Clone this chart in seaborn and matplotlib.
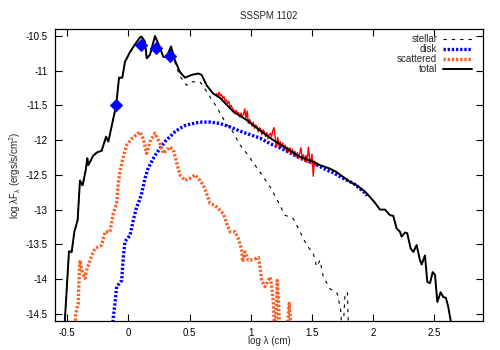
import pandas as pd
import matplotlib
matplotlib.use("Agg")
import matplotlib.pyplot as plt
from matplotlib.ticker import FuncFormatter
import seaborn as sns

# total model SED
total_x = [-0.53, -0.50, -0.486, -0.464, -0.442, -0.415, -0.396, -0.374, -0.349, -0.336,
           -0.328, -0.287, -0.26, -0.218, -0.183, -0.164, -0.124, -0.10, -0.077, -0.05,
           -0.028, 0.013, 0.054, 0.094, 0.108, 0.135, 0.149, 0.176, 0.217, 0.244,
           0.285, 0.313, 0.348, 0.38, 0.421, 0.462, 0.517, 0.571, 0.598, 0.639,
           0.693, 0.748, 0.857, 0.966, 1.075, 1.184, 1.293, 1.402, 1.51, 1.565,
           1.647, 1.701, 1.755, 1.81, 1.865, 1.933, 1.974, 2.014, 2.055, 2.096,
           2.137, 2.164, 2.191, 2.219, 2.232, 2.26, 2.278, 2.306, 2.328, 2.355,
           2.382, 2.396, 2.423, 2.442, 2.464, 2.486, 2.505, 2.524, 2.551, 2.573,
           2.594, 2.613, 2.633, 2.645]
total_y = [-14.9, -14.02, -13.6, -13.61, -13.32, -13.15, -12.58, -12.65, -12.43, -12.26,
           -12.36, -12.22, -12.18, -12.15, -11.95, -12.02, -11.69, -11.5, -11.1, -11.1,
           -10.87, -10.73, -10.62, -10.52, -10.51, -10.58, -10.82, -10.77, -10.5, -10.61,
           -10.8, -10.8, -10.65, -10.85, -11.02, -11.1, -11.06, -11.04, -11.06, -11.21,
           -11.33, -11.39, -11.59, -11.71, -11.86, -12.0, -12.12, -12.24, -12.31, -12.36,
           -12.41, -12.46, -12.53, -12.6, -12.65, -12.74, -12.82, -12.9, -13.0, -13.0,
           -13.08, -13.09, -13.27, -13.32, -13.39, -13.33, -13.34, -13.56, -13.61, -13.51,
           -13.73, -13.79, -13.66, -14.04, -14.06, -13.9, -13.94, -14.33, -14.19, -14.26,
           -14.27, -14.4, -14.6, -14.8]

# stellar photosphere
stellar_x = [-0.53, -0.50, -0.486, -0.464, -0.442, -0.415, -0.396, -0.374, -0.349, -0.336,
             -0.328, -0.287, -0.26, -0.218, -0.183, -0.164, -0.124, -0.10, -0.077, -0.05,
             -0.028, 0.013, 0.054, 0.094, 0.108, 0.135, 0.149, 0.176, 0.217, 0.244,
             0.285, 0.313, 0.348, 0.38, 0.421, 0.476, 0.517, 0.585, 0.639, 0.693,
             0.721, 0.803, 0.83, 0.912, 0.966, 1.075, 1.157, 1.224, 1.279, 1.347,
             1.402, 1.456, 1.51, 1.538, 1.565, 1.592, 1.633, 1.647, 1.707, 1.734,
             1.75, 1.77, 1.79, 1.80]
stellar_y = [-14.9, -14.03, -13.61, -13.62, -13.33, -13.16, -12.59, -12.66, -12.44, -12.27,
             -12.37, -12.23, -12.19, -12.16, -11.96, -12.03, -11.7, -11.51, -11.11, -11.11,
             -10.88, -10.74, -10.63, -10.53, -10.52, -10.59, -10.83, -10.78, -10.51, -10.62,
             -10.81, -10.82, -10.67, -10.88, -11.08, -11.21, -11.16, -11.16, -11.3, -11.45,
             -11.52, -11.78, -11.81, -12.07, -12.19, -12.46, -12.67, -12.89, -13.08, -13.13,
             -13.32, -13.51, -13.63, -13.82, -13.73, -13.97, -14.09, -14.14, -14.21, -14.45,
             -14.9, -14.2, -14.2, -14.9]

# disk emission
disk_x = [-0.14, -0.11, -0.096, -0.055, -0.042, -0.028, 0.013, 0.04, 0.067, 0.081,
          0.108, 0.135, 0.162, 0.217, 0.299, 0.38, 0.421, 0.462, 0.503, 0.585,
          0.666, 0.748, 0.83, 0.912, 0.993, 1.075, 1.157, 1.238, 1.32, 1.402,
          1.51, 1.565, 1.62, 1.674, 1.755, 1.837, 1.933, 1.95]
disk_y = [-14.8, -14.35, -14.11, -14.02, -13.68, -13.46, -13.37, -13.15, -12.96, -12.91,
          -12.77, -12.55, -12.4, -12.22, -12.02, -11.88, -11.83, -11.79, -11.77, -11.74,
          -11.74, -11.76, -11.81, -11.87, -11.92, -11.97, -12.05, -12.11, -12.18, -12.26,
          -12.33, -12.38, -12.43, -12.47, -12.55, -12.62, -12.76, -12.8]

# scattered light
scat_x = [-0.44, -0.431, -0.41, -0.404, -0.396, -0.382, -0.355, -0.341, -0.30, -0.273,
          -0.218, -0.191, -0.151, -0.124, -0.096, -0.083, -0.069, -0.042, -0.014, 0.027,
          0.094, 0.121, 0.149, 0.176, 0.217, 0.258, 0.285, 0.34, 0.367, 0.407,
          0.421, 0.462, 0.503, 0.544, 0.585, 0.612, 0.639, 0.666, 0.707, 0.748,
          0.775, 0.803, 0.83, 0.871, 0.898, 0.925, 0.933, 0.952, 0.98, 1.02,
          1.061, 1.075, 1.088, 1.116, 1.143, 1.157, 1.17, 1.184, 1.20, 1.216,
          1.224, 1.24, 1.29, 1.314, 1.335]
scat_y = [-14.9, -14.5, -14.35, -14.02, -13.73, -13.87, -13.99, -13.87, -13.66, -13.56,
          -13.51, -13.32, -13.32, -13.06, -12.91, -12.62, -12.45, -12.24, -12.07, -11.98,
          -11.88, -11.98, -12.19, -12.02, -11.9, -12.05, -12.19, -12.1, -12.14, -12.41,
          -12.5, -12.58, -12.55, -12.5, -12.58, -12.65, -12.77, -12.91, -12.94, -13.01,
          -13.06, -13.2, -13.32, -13.32, -13.42, -13.58, -13.75, -13.61, -13.73, -13.72,
          -13.69, -13.82, -14.02, -14.11, -14.02, -13.97, -14.09, -14.35, -14.9, -14.02,
          -14.26, -14.9, -14.9, -14.35, -14.9]

# observed IRS spectrum
irs_x = [0.72, 0.73, 0.74, 0.75, 0.76, 0.77, 0.78, 0.79, 0.80, 0.81,
         0.82, 0.83, 0.84, 0.85, 0.86, 0.87, 0.88, 0.89, 0.90, 0.91,
         0.92, 0.93, 0.94, 0.95, 0.96, 0.97, 0.98, 0.99, 1.00, 1.01,
         1.02, 1.03, 1.04, 1.05, 1.06, 1.07, 1.08, 1.09, 1.10, 1.11,
         1.12, 1.13, 1.14, 1.15, 1.16, 1.17, 1.18, 1.19, 1.20, 1.21,
         1.22, 1.23, 1.24, 1.25, 1.26, 1.27, 1.28, 1.29, 1.30, 1.31,
         1.32, 1.33, 1.34, 1.35, 1.36, 1.37, 1.38, 1.39, 1.40, 1.41,
         1.42, 1.43, 1.44, 1.45, 1.46, 1.47, 1.48, 1.49, 1.50, 1.51,
         1.52, 1.53, 1.54]
irs_y = [-11.33, -11.38, -11.31, -11.36, -11.34, -11.40, -11.37, -11.44, -11.42, -11.47,
         -11.44, -11.52, -11.50, -11.55, -11.56, -11.62, -11.57, -11.61, -11.60, -11.67,
         -11.61, -11.66, -11.63, -11.55, -11.68, -11.58, -11.76, -11.70, -11.74, -11.80,
         -11.74, -11.83, -11.78, -11.80, -11.88, -11.82, -11.84, -11.92, -11.85, -11.88,
         -11.95, -11.89, -11.98, -11.92, -11.90, -11.95, -11.86, -11.82, -11.98, -12.10,
         -11.96, -12.08, -12.02, -12.10, -12.04, -12.13, -12.07, -12.15, -12.10, -12.17,
         -12.11, -12.20, -12.13, -12.22, -12.16, -12.24, -12.18, -12.26, -12.18, -12.11,
         -12.28, -12.21, -12.30, -12.22, -12.32, -12.10, -12.25, -12.34, -12.20, -12.52,
         -12.30, -12.36, -12.33]

# photometry
phot_x = [-0.102, 0.10, 0.225, 0.342]
phot_y = [-11.5, -10.63, -10.68, -10.79]

xticks = [-0.5, 0, 0.5, 1, 1.5, 2, 2.5]
yticks = [-10.5, -11, -11.5, -12, -12.5, -13, -13.5, -14, -14.5]

sns.set_style("ticks")
plt.rcParams['font.family'] = ['Liberation Sans', 'DejaVu Sans']
plt.rcParams['font.size'] = 7
plt.rcParams['axes.unicode_minus'] = False
plt.rcParams['mathtext.fontset'] = 'custom'
plt.rcParams['mathtext.rm'] = 'Liberation Sans'
plt.rcParams['mathtext.it'] = 'Liberation Sans'
plt.rcParams['mathtext.default'] = 'regular'

fig = plt.figure(figsize=(5, 3.5), dpi=100)
ax = fig.add_axes([0.11, 0.0837, 0.8567, 0.8333])

orange = "#ff6025"
sns.lineplot(x=stellar_x, y=stellar_y, ax=ax, sort=False, estimator=None, color="black",
             lw=0.8, label="stellar")
ax.lines[-1].set_dashes((3, 4.5))
sns.lineplot(x=disk_x, y=disk_y, ax=ax, sort=False, estimator=None, color="#0000ff",
             lw=2.4, label="disk")
ax.lines[-1].set_dashes((0.7, 0.55))
sns.lineplot(x=scat_x, y=scat_y, ax=ax, sort=False, estimator=None, color=orange,
             lw=2.4, label="scattered")
ax.lines[-1].set_dashes((0.7, 0.55))
sns.lineplot(x=irs_x, y=irs_y, ax=ax, sort=False, estimator=None, color="#ff0000",
             lw=1.0, label="_nolegend_")
sns.lineplot(x=total_x, y=total_y, ax=ax, sort=False, estimator=None, color="black",
             lw=1.4, label="total")
sns.scatterplot(x=phot_x, y=phot_y, ax=ax, marker="D", s=40, color="#0000ff",
                edgecolor="#0000ff", linewidth=0.5, zorder=5, label="_nolegend_")

ax.set_xlim(-0.6, 2.9)
ax.set_ylim(-14.6, -10.4)
ax.set_xticks(xticks)
ax.set_yticks(yticks)
fmt = FuncFormatter(lambda v, p: "%g" % v)
ax.xaxis.set_major_formatter(fmt)
ax.yaxis.set_major_formatter(fmt)
ax.tick_params(direction="in", length=5, width=0.8, top=True, right=True,
               labelsize=7, pad=5, colors="black")
for s in ax.spines.values():
    s.set_visible(True)
    s.set_linewidth(0.9)
    s.set_color("black")

ax.set_title("SSSPM 1102", fontsize=7, pad=7)
ax.set_xlabel("log λ (cm)", fontsize=7, labelpad=-1)
ax.set_ylabel(r"log $\lambda$F$_{\lambda}$ (ergs/s/cm$^{2}$)", fontsize=7, labelpad=2)

leg = ax.legend(loc="upper right", bbox_to_anchor=(0.981, 0.993), markerfirst=False,
                frameon=False, fontsize=7, handlelength=3.0, handletextpad=0.55,
                labelspacing=0.0, borderaxespad=0.0, borderpad=0.35)

fig.savefig("out.png", dpi=100)
